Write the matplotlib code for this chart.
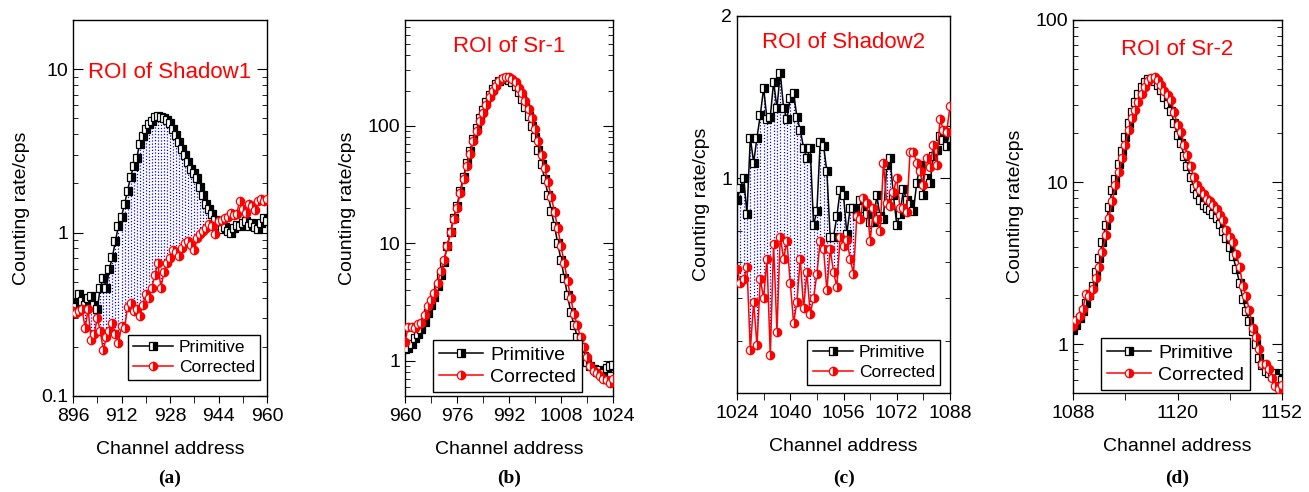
import numpy as np
import matplotlib
matplotlib.use("Agg")
import matplotlib.pyplot as plt
from matplotlib.ticker import FixedLocator, LogLocator, NullFormatter, FixedFormatter

plt.rcParams['font.family'] = ['Liberation Sans', 'DejaVu Sans']

# canales (a)
ch_a = list(range(896, 961))
prim_a = [0.37, 0.35, 0.42, 0.38, 0.36, 0.40, 0.41, 0.36, 0.34, 0.46,
          0.53, 0.46, 0.60, 0.71, 0.89, 1.10, 1.25, 1.50, 1.80, 2.20,
          2.55, 2.85, 3.5, 3.9, 4.3, 4.6, 4.8, 5.1, 5.2, 5.1,
          5.0, 4.9, 4.7, 4.3, 3.95, 3.6, 3.25, 3.0, 2.7, 2.45,
          2.3, 2.15, 1.9, 1.7, 1.5, 1.4, 1.3, 1.2, 1.12, 1.05,
          1.08, 1.02, 1.0, 1.06, 1.12, 1.1, 1.15, 1.18, 1.10, 1.15,
          1.08, 1.05, 1.15, 1.22, 1.18]
corr_a = [0.33, 0.32, 0.33, 0.34, 0.26, 0.34, 0.22, 0.24, 0.30, 0.25,
          0.19, 0.23, 0.25, 0.28, 0.24, 0.21, 0.27, 0.26, 0.35, 0.37,
          0.33, 0.34, 0.31, 0.36, 0.42, 0.40, 0.46, 0.55, 0.65, 0.46,
          0.57, 0.65, 0.70, 0.78, 0.76, 0.72, 0.80, 0.86, 0.89, 0.84,
          0.78, 0.93, 0.98, 1.02, 1.07, 1.13, 1.10, 0.98, 1.18, 1.20,
          1.22, 1.25, 1.32, 1.28, 1.30, 1.57, 1.40, 1.32, 1.50, 1.45,
          1.37, 1.55, 1.61, 1.55, 1.60]

# canales (b)
ch_b = list(range(960, 1025))
prim_b = [1.25, 1.28, 1.40, 1.55, 1.70, 1.85, 2.15, 2.55, 3.0, 3.5,
          4.3, 5.4, 7.0, 9.5, 12.5, 16.5, 21, 28, 37, 48,
          61, 78, 96, 116, 138, 160, 185, 208, 228, 243,
          252, 255, 248, 235, 218, 195, 170, 145, 122, 100,
          80, 62, 47, 35, 26, 19, 14, 10, 7.2, 5.1,
          3.6, 2.6, 2.0, 1.6, 1.3, 1.1, 0.98, 0.90, 0.85, 0.80,
          0.84, 0.78, 0.86, 0.90, 0.92]
corr_b = [1.43, 1.95, 1.95, 1.90, 2.05, 2.10, 2.45, 2.95, 3.3, 3.8,
          4.6, 5.8, 7.2, 9.5, 12.4, 16, 20, 27, 35, 46,
          58, 74, 91, 110, 130, 152, 175, 197, 220, 240,
          254, 262, 260, 250, 235, 212, 190, 163, 140, 116,
          95, 74, 57, 44, 33, 25, 18.5, 13.5, 9.5, 6.8,
          4.8, 3.4, 2.5, 2.0, 1.6, 1.3, 1.08, 0.90, 0.82, 0.78,
          0.74, 0.70, 0.68, 0.65, 0.70]

# canales (c)
ch_c = list(range(1024, 1089))
prim_c = [0.91, 0.96, 1.00, 0.86, 1.19, 1.07, 1.19, 1.31, 1.47, 1.29,
          1.30, 1.51, 1.35, 1.57, 1.35, 1.29, 1.41, 1.44, 1.30, 1.23,
          1.14, 1.09, 1.14, 0.82, 0.87, 1.17, 1.15, 1.03, 0.78, 0.78,
          0.85, 0.95, 0.93, 0.79, 0.88, 0.88, 0.85, 0.91, 0.88, 0.86,
          0.83, 0.83, 0.93, 0.85, 0.84, 1.06, 1.09, 0.93, 0.82, 0.86,
          0.955, 0.91, 0.895, 0.87, 0.98, 1.06, 0.93, 1.00, 0.98, 1.10,
          1.13, 1.20, 1.18, 1.15, 1.23]
corr_c = [0.68, 0.64, 0.65, 0.685, 0.48, 0.59, 0.49, 0.65, 0.60, 0.71,
          0.47, 0.755, 0.52, 0.78, 0.71, 0.765, 0.64, 0.54, 0.59, 0.71,
          0.575, 0.67, 0.56, 0.60, 0.665, 0.765, 0.74, 0.62, 0.74, 0.67,
          0.63, 0.78, 0.75, 0.77, 0.71, 0.665, 0.85, 0.84, 0.92, 0.90,
          0.765, 0.88, 0.84, 0.80, 1.07, 0.90, 0.89, 0.945, 1.00, 0.88,
          0.88, 0.865, 1.12, 1.12, 1.07, 1.03, 0.97, 1.09, 1.05, 1.155,
          1.06, 1.29, 1.23, 1.22, 1.36]

# canales (d)
ch_d = list(range(1088, 1153))
prim_d = [1.22, 1.32, 1.45, 1.6, 1.8, 2.0, 2.3, 2.8, 3.4, 4.3,
          5.4, 7.0, 9.0, 10.5, 13, 15.5, 19, 23, 27, 31,
          35, 38.5, 41.5, 43, 43.5, 42, 40, 37, 33.5, 30.5,
          27.5, 23, 19.5, 17.5, 14.5, 12.5, 10.8, 9.2, 8.4, 7.8,
          7.2, 6.9, 6.7, 6.4, 6.0, 5.5, 5.0, 4.5, 4.0, 3.5,
          2.9, 2.4, 1.9, 1.6, 1.4, 1.2, 1.0, 0.82, 0.74, 0.68,
          0.66, 0.64, 0.66, 0.62, 0.60]
corr_d = [1.30, 1.42, 1.50, 1.64, 2.05, 1.98, 2.2, 2.55, 3.0, 3.7,
          4.7, 6.0, 7.6, 9.6, 11.5, 14.0, 17.0, 21, 25, 28,
          31, 35, 38.5, 42, 44, 44.5, 42.5, 40, 36.5, 34.5,
          32, 27, 22.5, 20.5, 17, 14.8, 12.5, 10.8, 9.6, 9.0,
          8.4, 7.9, 7.6, 7.2, 6.8, 6.3, 5.8, 5.1, 4.6, 4.3,
          3.6, 3.0, 2.3, 1.98, 1.62, 1.25, 1.10, 0.93, 0.76, 0.75,
          0.70, 0.62, 0.55, 0.53, 0.56]

titulos = ['ROI of Shadow1', 'ROI of Sr-1', 'ROI of Shadow2', 'ROI of Sr-2']
etiquetas = ['(a)', '(b)', '(c)', '(d)']
xticks = [[896, 912, 928, 944, 960], [960, 976, 992, 1008, 1024],
          [1024, 1040, 1056, 1072, 1088], [1088, 1120, 1152]]
xminor = [8, 8, 8, 16]
yticks = [[0.1, 1, 10], [1, 10, 100], [1, 2], [1, 10, 100]]
ytick_txt = [['0.1', '1', '10'], ['1', '10', '100'], ['1', '2'], ['1', '10', '100']]
ylims = [(0.1, 20), (0.5, 800), (0.4, 2), (0.5, 100)]
sombra = [True, False, True, False]

# posiciones de los ejes en pixeles (izq, der, arriba, abajo)
cajas = [(73, 267, 20, 396), (405, 613, 20, 396), (737, 950, 16, 393), (1073, 1282, 20, 393)]
titulo_y = [0.86, 0.93, 0.93, 0.92]
# esquina inferior derecha de la leyenda
leg_pos = [(0.965, 0.043), (0.851, 0.011), (0.953, 0.021), (0.847, 0.008)]
leg_size = [12.5, 14, 12.5, 14]

W, H = 1309, 492
fig = plt.figure(figsize=(W / 100, H / 100), dpi=100)

datos = [(ch_a, prim_a, corr_a), (ch_b, prim_b, corr_b),
         (ch_c, prim_c, corr_c), (ch_d, prim_d, corr_d)]

for i, (ch, prim, corr) in enumerate(datos):
    l, r, t, b = cajas[i]
    ax = fig.add_axes([l / W, 1 - b / H, (r - l) / W, (b - t) / H])
    ch = np.array(ch)
    prim = np.array(prim)
    corr = np.array(corr)

    if sombra[i]:  # lineas punteadas azules entre las curvas
        m = prim > corr
        ax.vlines(ch[m], corr[m], prim[m], colors='blue', linestyles=(0, (1, 1.5)), lw=0.9, zorder=1)

    ax.plot(ch, prim, color='black', lw=1.1, marker='s', ms=5.6, fillstyle='right',
            markerfacecolor='black', markerfacecoloralt='white', markeredgecolor='black',
            markeredgewidth=0.9, label='Primitive', zorder=3)
    ax.plot(ch, corr, color='red', lw=1.1, marker='o', ms=6.0, fillstyle='right',
            markerfacecolor='red', markerfacecoloralt='white', markeredgecolor='red',
            markeredgewidth=0.9, label='Corrected', zorder=4)

    ax.set_yscale('log')
    ax.set_ylim(*ylims[i])
    ax.set_xlim(xticks[i][0], xticks[i][-1])
    ax.xaxis.set_major_locator(FixedLocator(xticks[i]))
    ax.xaxis.set_minor_locator(FixedLocator(list(range(xticks[i][0], xticks[i][-1] + 1, xminor[i]))))
    ax.yaxis.set_major_locator(FixedLocator(yticks[i]))
    ax.yaxis.set_major_formatter(FixedFormatter(ytick_txt[i]))
    ax.yaxis.set_minor_locator(LogLocator(base=10, subs=np.arange(2, 10), numticks=20))
    ax.yaxis.set_minor_formatter(NullFormatter())
    ax.tick_params(axis='x', which='both', direction='out', top=False, labelsize=14, length=5)
    ax.tick_params(axis='y', which='both', direction='in', left=True, right=True, labelsize=14)
    ax.tick_params(axis='y', which='major', length=7)
    ax.tick_params(axis='y', which='minor', length=3.5)
    for s in ax.spines.values():
        s.set_linewidth(1.0)

    ax.set_xlabel('Channel address', fontsize=14, labelpad=12)
    ax.set_ylabel('Counting rate/cps', fontsize=14, labelpad=8)
    ax.text(0.5, titulo_y[i], titulos[i], transform=ax.transAxes, color='red',
            fontsize=16, ha='center', va='center')
    leg = ax.legend(loc='lower right', bbox_to_anchor=leg_pos[i], fontsize=leg_size[i],
                    frameon=True, fancybox=False, edgecolor='black', framealpha=1,
                    handlelength=2.3, borderpad=0.3, labelspacing=0.25, handletextpad=0.35,
                    borderaxespad=0.0)
    leg.get_frame().set_linewidth(1.0)

    fig.text((l + r) / 2 / W, 1 - 478 / H, etiquetas[i], family=['Liberation Serif', 'DejaVu Serif'],
             fontweight='bold', fontsize=14, ha='center', va='center')

fig.savefig('out.png', dpi=100)
